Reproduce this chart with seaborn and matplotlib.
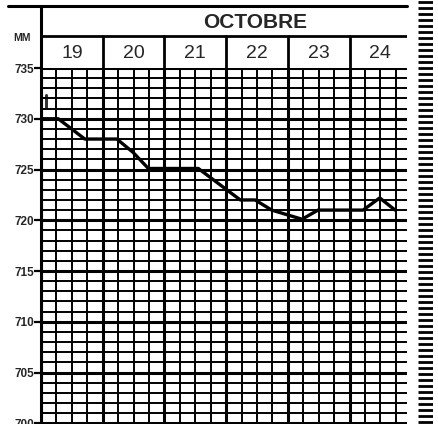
import numpy as np
import matplotlib
matplotlib.use("Agg")
import matplotlib.pyplot as plt
from matplotlib.lines import Line2D
import seaborn as sns

# barograph trace: time in days from 19 Oct 00h, pressure in mm Hg
t_days = [0, 0.28, 0.71, 1.23, 1.49, 1.74, 2.55, 3.23, 3.47, 3.74, 4.23, 4.49, 5.22, 5.49, 5.74]
pressure = [730, 730, 728, 728, 726.7, 725.1, 725.1, 722, 722, 721, 720.1, 721, 721, 722.2, 721]

days = ["19", "20", "21", "22", "23", "24"]
month = "OCTOBRE"
y_ticks = [735, 730, 725, 720, 715, 710, 705, 700]
y_labels = ["735", "730", "725", "720", "715", "710", "705", "700"]

sns.set_style("white")
plt.rcParams["font.family"] = ["Liberation Sans", "DejaVu Sans"]

W, H = 439, 424
fig = plt.figure(figsize=(W / 100, H / 100), dpi=100)

x0, x1 = 41, 407      # grid left / right in px
y_top = 68            # 735 line in px
day_px = 61.7
mm_px = 10.15
xmax = (x1 - x0) / day_px
ymin = 735 - (H - y_top) / mm_px

ax = fig.add_axes([x0 / W, 0, (x1 - x0) / W, (H - y_top) / H])
ax.set_xlim(0, xmax)
ax.set_ylim(ymin, 735)

# grid
for mm in range(700, 736):
    heavy = mm % 5 == 0
    ax.axhline(mm, color="black", lw=2.2 if heavy else 1.4, zorder=1)
for q in range(0, 24):
    xv = q / 4
    if xv > xmax:
        break
    heavy = q % 4 == 0
    ax.axvline(xv, color="black", lw=2.2 if heavy else 1.4, zorder=1)

# pen trace
sns.lineplot(x=t_days, y=pressure, ax=ax, color="black", lw=2.4, zorder=3)
ax.plot([0.08, 0.08], [731.2, 732.3], color="black", lw=2.2, alpha=0.8)

for s in ax.spines.values():
    s.set_visible(False)
ax.set_xticks([])
ax.set_yticks(y_ticks)
ax.set_yticklabels(y_labels, fontsize=8.5, fontweight="bold")
ax.tick_params(axis="y", left=True, length=5, width=1.6, pad=0, color="black")
ax.set_xlabel("")
ax.set_ylabel("")

# header
hx = fig.add_axes([x0 / W, (H - y_top) / H, (x1 - x0) / W, (y_top - 6) / H])
hx.set_xlim(0, xmax)
hx.set_ylim(0, y_top - 6)
hx.axis("off")
hx.axhline(y_top - 36, color="black", lw=2.0)
for d in range(1, 6):
    hx.plot([d, d], [0, y_top - 36], color="black", lw=2.0)
for i, d in enumerate(days):
    hx.text(i + 0.5, y_top - 53, d, ha="center", va="center", fontsize=14,
            fontweight="medium")
hx.text((255 - x0) / day_px, y_top - 22, month, ha="center", va="center",
        fontsize=15, fontweight="bold")

# frame lines in figure pixels
def fline(xs, ys, lw):
    fig.add_artist(Line2D([x / W for x in xs], [1 - y / H for y in ys],
                          color="black", lw=lw))

fline([8, x1], [6, 6], 2.2)
fline([x0, x0], [6, H], 2.2)
fig.text(22 / W, 1 - 38 / H, "MM", ha="center", va="center", fontsize=7.5,
         fontweight="bold")

# striped strip on the right
sx = fig.add_axes([418 / W, 0, 15 / W, 1])
sx.set_xlim(0, 1)
sx.set_ylim(0, H)
sx.axis("off")
sx.hlines(np.arange(2, H, 6.0), 0, 1, color="black", lw=2.0)

fig.savefig("out.png", dpi=100, facecolor="white")
